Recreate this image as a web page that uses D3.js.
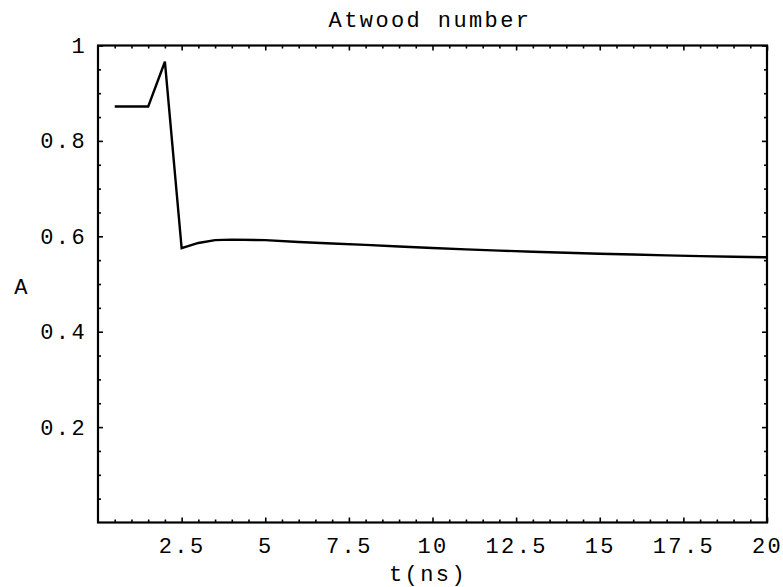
<!DOCTYPE html>
<html><head><meta charset="utf-8">
<script src="https://cdn.jsdelivr.net/npm/d3@7"></script>
<style>body{margin:0;background:#fff}svg{display:block}</style>
</head><body>
<svg id="chart" width="783" height="587"></svg>
<script>
// ---- data ----
const time   = [0.5, 1, 1.5, 2, 2.5, 3, 3.5, 4, 5, 6, 7, 8, 9, 10, 11, 12, 13, 14, 15, 16, 17, 18, 19, 20];
const atwood = [0.872, 0.872, 0.872, 0.966, 0.575, 0.586, 0.592, 0.593, 0.592, 0.588, 0.585, 0.582, 0.5785, 0.5755, 0.5725, 0.570, 0.5675, 0.5655, 0.5635, 0.562, 0.560, 0.5585, 0.557, 0.556];
const xTickValues = [2.5, 5, 7.5, 10, 12.5, 15, 17.5, 20];
const xTickLabels = ["2.5", "5", "7.5", "10", "12.5", "15", "17.5", "20"];
const yTickValues = [0.2, 0.4, 0.6, 0.8, 1];
const yTickLabels = ["0.2", "0.4", "0.6", "0.8", "1"];
const titleText = "Atwood number";
const xLabelText = "t(ns)";
const yLabelText = "A";

// ---- layout ----
const svg = d3.select("#chart");
const FONT = "'Liberation Mono', 'DejaVu Sans Mono', monospace";
const FS = 22, LS = 2.4;
const pL = 98, pR = 767, pT = 45.5, pB = 522.5;
const x = d3.scaleLinear().domain([0, 20]).range([pL, pR]);
const y = d3.scaleLinear().domain([0, 1]).range([pB, pT]);

const xMinor = d3.range(0.5, 20, 0.5).filter(v => Math.abs(v / 2.5 - Math.round(v / 2.5)) > 1e-6);
const yMinor = d3.range(0.05, 1, 0.05).filter(v => Math.abs(v / 0.2 - Math.round(v / 0.2)) > 1e-6);

function styleAxis(g) {
  g.select(".domain").remove();
  g.selectAll("line").attr("stroke", "#000").attr("stroke-width", 1.6);
  g.selectAll("text").attr("font-family", FONT).attr("font-size", FS)
    .attr("letter-spacing", LS).attr("fill", "#000");
}

// bottom axis (major with labels, minor without)
svg.append("g").attr("transform", `translate(0,${pB})`)
  .call(d3.axisBottom(x).tickValues(xTickValues).tickSize(-5).tickPadding(15)
    .tickFormat((d, i) => xTickLabels[i]))
  .call(styleAxis);
svg.append("g").attr("transform", `translate(0,${pB})`)
  .call(d3.axisBottom(x).tickValues(xMinor).tickSize(-3).tickFormat(""))
  .call(styleAxis);
// top axis
svg.append("g").attr("transform", `translate(0,${pT})`)
  .call(d3.axisTop(x).tickValues(xTickValues).tickSize(-5).tickFormat(""))
  .call(styleAxis);
svg.append("g").attr("transform", `translate(0,${pT})`)
  .call(d3.axisTop(x).tickValues(xMinor).tickSize(-3).tickFormat(""))
  .call(styleAxis);
// left axis
svg.append("g").attr("transform", `translate(${pL},0)`)
  .call(d3.axisLeft(y).tickValues(yTickValues).tickSize(-5).tickPadding(11)
    .tickFormat((d, i) => yTickLabels[i]))
  .call(styleAxis);
svg.append("g").attr("transform", `translate(${pL},0)`)
  .call(d3.axisLeft(y).tickValues(yMinor).tickSize(-3).tickFormat(""))
  .call(styleAxis);
// right axis
svg.append("g").attr("transform", `translate(${pR},0)`)
  .call(d3.axisRight(y).tickValues(yTickValues).tickSize(-5).tickFormat(""))
  .call(styleAxis);
svg.append("g").attr("transform", `translate(${pR},0)`)
  .call(d3.axisRight(y).tickValues(yMinor).tickSize(-3).tickFormat(""))
  .call(styleAxis);

// frame
svg.append("rect")
  .attr("x", pL).attr("y", pT)
  .attr("width", pR - pL).attr("height", pB - pT)
  .attr("fill", "none").attr("stroke", "#000").attr("stroke-width", 2.2);

// data line
const pts = time.map((t, i) => [t, atwood[i]]);
svg.append("path")
  .datum(pts)
  .attr("fill", "none").attr("stroke", "#000").attr("stroke-width", 2.4)
  .attr("stroke-linejoin", "miter")
  .attr("d", d3.line().x(d => x(d[0])).y(d => y(d[1])));

// title and labels
function label(txt, xx, yy) {
  svg.append("text").attr("x", xx).attr("y", yy)
    .attr("text-anchor", "middle").attr("font-family", FONT).attr("font-size", FS)
    .attr("letter-spacing", LS).attr("fill", "#000")
    .text(txt);
}
label(titleText, 430, 27);
label(xLabelText, 428, 581);
label(yLabelText, 22, 294);
</script>
</body></html>
